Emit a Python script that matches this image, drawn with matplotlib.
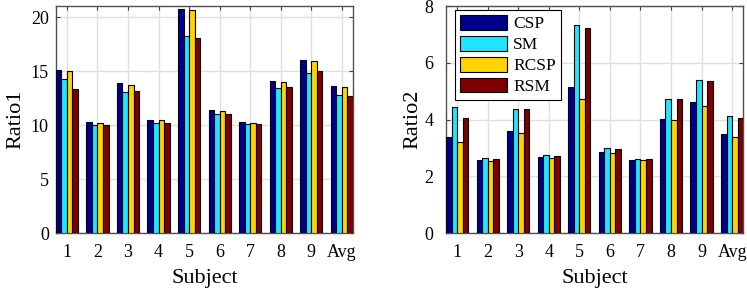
import numpy as np
import matplotlib
matplotlib.use("Agg")
import matplotlib.pyplot as plt

# Du lieu doc tu hinh goc
subjects = ["1", "2", "3", "4", "5", "6", "7", "8", "9", "Avg"]
methods = ["CSP", "SM", "RCSP", "RSM"]
colors = ["#00008C", "#1EE6FF", "#FFD200", "#7F0000"]

ratio1_csp = [15.13, 10.29, 13.89, 10.51, 20.80, 11.41, 10.26, 14.08, 16.03, 13.61]
ratio1_sm = [14.29, 10.05, 13.12, 10.20, 18.29, 11.04, 10.11, 13.46, 14.82, 12.84]
ratio1_rcsp = [15.04, 10.20, 13.74, 10.45, 20.65, 11.32, 10.23, 14.05, 15.94, 13.52]
ratio1_rsm = [13.40, 10.02, 13.18, 10.23, 18.11, 11.07, 10.14, 13.52, 15.04, 12.74]

ratio2_csp = [3.37, 2.57, 3.61, 2.69, 5.16, 2.86, 2.57, 4.01, 4.63, 3.49]
ratio2_sm = [4.44, 2.64, 4.37, 2.76, 7.32, 2.99, 2.60, 4.73, 5.41, 4.14]
ratio2_rcsp = [3.21, 2.53, 3.51, 2.66, 4.73, 2.83, 2.56, 3.99, 4.49, 3.39]
ratio2_rsm = [4.06, 2.62, 4.36, 2.71, 7.22, 2.96, 2.60, 4.71, 5.36, 4.06]

plt.rcParams["font.family"] = ["Liberation Serif", "DejaVu Serif"]

fig = plt.figure(figsize=(7.47, 2.92), dpi=100)
ax1 = fig.add_axes([0.0746, 0.202, 0.398, 0.777])
ax2 = fig.add_axes([0.597, 0.202, 0.398, 0.777])

x = np.arange(1, len(subjects) + 1)
group_w = 4 / 5.5
bar_w = group_w / 4


def draw_panel(ax, series, ylabel, ylim, yticks, ypad, lpad):
    for i, vals in enumerate(series):
        offs = -group_w / 2 + bar_w * (i + 0.5)
        ax.bar(x + offs, vals, width=bar_w, color=colors[i], edgecolor="black",
               linewidth=0.8, label=methods[i], zorder=3)
    ax.set_xlim(1 - group_w / 2, len(subjects) + group_w / 2)
    ax.set_ylim(*ylim)
    ax.set_xticks(x)
    ax.set_xticklabels(subjects)
    ax.set_yticks(yticks)
    ax.grid(True, color="#e0e0e0", linewidth=1.0, zorder=0)
    ax.tick_params(direction="in", top=True, right=True, labelsize=13,
                   length=3, color="#404040")
    ax.tick_params(axis="x", pad=8)
    ax.tick_params(axis="y", pad=ypad)
    for s in ax.spines.values():
        s.set_color("#505050")
        s.set_linewidth(1.0)
    ax.set_xlabel("Subject", fontsize=16, labelpad=6)
    ax.set_ylabel(ylabel, fontsize=16, labelpad=lpad)


draw_panel(ax1, [ratio1_csp, ratio1_sm, ratio1_rcsp, ratio1_rsm], "Ratio1",
           (0, 21.05), [0, 5, 10, 15, 20], 5, 4)
draw_panel(ax2, [ratio2_csp, ratio2_sm, ratio2_rcsp, ratio2_rsm], "Ratio2",
           (0, 8), [0, 2, 4, 6, 8], 9, 1.5)

leg = ax2.legend(loc="upper left", bbox_to_anchor=(0.03, 0.985), fontsize=12.5,
                 borderaxespad=0, handlelength=2.7, handleheight=0.95,
                 handletextpad=0.35, labelspacing=0.2, borderpad=0.3,
                 fancybox=False, framealpha=1)
leg.get_frame().set_edgecolor("black")
leg.get_frame().set_linewidth(0.8)
leg.set_zorder(10)

fig.savefig("out.png", dpi=100)
